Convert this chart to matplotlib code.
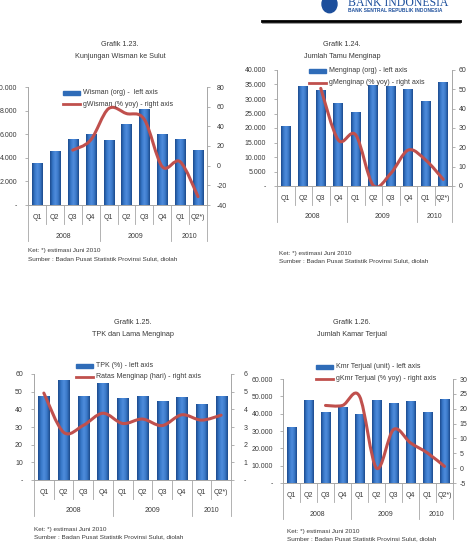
import numpy as np
import matplotlib
matplotlib.use('Agg')
import matplotlib.pyplot as plt
from matplotlib.path import Path
from matplotlib.patches import PathPatch, Circle, Rectangle
from matplotlib.lines import Line2D
from matplotlib.colors import LinearSegmentedColormap

plt.rcParams['font.family'] = ['Liberation Sans', 'DejaVu Sans']

# category axis (shared by all four charts)
quarters = ['Q1', 'Q2', 'Q3', 'Q4', 'Q1', 'Q2', 'Q3', 'Q4', 'Q1', 'Q2*)']
years = ['2008', '2009', '2010']
year_spans = [4, 4, 2]

# Grafik 1.23 - Kunjungan Wisman ke Sulut
wisman = [3520, 4560, 5630, 6000, 5490, 6900, 8170, 6000, 5580, 4650]
g_wisman = [np.nan, np.nan, 15.8, 26, 58, 53, 47, -1, 4, -31.5]
wisman_lticks = [0, 2000, 4000, 6000, 8000, 10000]
wisman_llabels = ['-', '2.000', '4.000', '6.000', '8.000', '10.000']
wisman_rticks = [-40, -20, 0, 20, 40, 60, 80]

# Grafik 1.24 - Jumlah Tamu Menginap
menginap = [20700, 34500, 33100, 28500, 25600, 34800, 34500, 33300, 29400, 35900]
g_menginap = [np.nan, np.nan, 50.5, 23.8, 26.4, 0.3, 6.5, 18.6, 13.4, 3.4]
menginap_lticks = [0, 5000, 10000, 15000, 20000, 25000, 30000, 35000, 40000]
menginap_llabels = ['-', '5.000', '10.000', '15.000', '20.000', '25.000',
                    '30.000', '35.000', '40.000']
menginap_rticks = [0, 10, 20, 30, 40, 50, 60]

# Grafik 1.25 - TPK dan Lama Menginap
tpk = [47.3, 56.8, 47.7, 55.1, 46.4, 47.5, 45.0, 47.1, 43.0, 47.5]
lama = [4.92, 2.7, 3.09, 3.78, 3.2, 3.45, 3.08, 3.69, 3.39, 3.67]
tpk_lticks = [0, 10, 20, 30, 40, 50, 60]
tpk_llabels = ['-', '10', '20', '30', '40', '50', '60']
lama_rticks = [0, 1, 2, 3, 4, 5, 6]
lama_rlabels = ['-', '1', '2', '3', '4', '5', '6']

# Grafik 1.26 - Jumlah Kamar Terjual
kamar = [32100, 48100, 40800, 43700, 39600, 47700, 46200, 47300, 41200, 48300]
g_kamar = [np.nan, np.nan, 21.1, 21.1, 24.2, 0.0, 13.0, 8.5, 5.1, 0.6]
kamar_lticks = [0, 10000, 20000, 30000, 40000, 50000, 60000]
kamar_llabels = ['-', '10.000', '20.000', '30.000', '40.000', '50.000', '60.000']
kamar_rticks = [-5, 0, 5, 10, 15, 20, 25, 30]

note1 = 'Ket: *) estimasi Juni 2010'
note2 = 'Sumber : Badan Pusat Statistik Provinsi Sulut, diolah'

W, H = 469, 546
RED = '#c0504d'
TXT = '#3a3a3a'
AXC = '#a6a6a6'
BAR_CMAP = LinearSegmentedColormap.from_list(
    'bar', ['#1c4a8c', '#3777c8', '#4f8cdc', '#3a79c8', '#1c4a8c'])

fig = plt.figure(figsize=(W / 100, H / 100), dpi=100)


def fx(x):
    return x / W


def fy(y):
    return 1 - y / H


def smooth_path(xs, ys):
    # Excel-like smoothed line: cubic bezier through the data points
    pts = np.array([(x, y) for x, y in zip(xs, ys) if not np.isnan(y)])
    n = len(pts)
    verts = [pts[0]]
    codes = [Path.MOVETO]
    for i in range(n - 1):
        p0 = pts[i - 1] if i > 0 else pts[i]
        p1, p2 = pts[i], pts[i + 1]
        p3 = pts[i + 2] if i + 2 < n else p2
        verts += [p1 + (p2 - p0) / 6, p2 - (p3 - p1) / 6, p2]
        codes += [Path.CURVE4] * 3
    return Path(verts, codes)


def draw_chart(box, bars, line, lticks, llabels, rticks, rlabels,
               leg_bar, leg_line, leg_xy, titles, title_xy, note_xy,
               lpad=4.5, rpad=4.5):
    l, t, r, b = box
    ax = fig.add_axes([fx(l), fy(b), (r - l) / W, (b - t) / H])
    x = np.arange(len(bars))
    rects = ax.bar(x, bars, width=0.56, color='#3272c2', zorder=2)
    grad = np.linspace(0, 1, 64).reshape(1, -1)
    for p in rects:
        x0, y0, w, h = p.get_x(), p.get_y(), p.get_width(), p.get_height()
        im = ax.imshow(grad, cmap=BAR_CMAP, extent=(x0, x0 + w, y0, y0 + h),
                       aspect='auto', interpolation='bilinear', zorder=3)
        im.set_clip_path(p)
    ax.set_xlim(-0.5, len(bars) - 0.5)
    ax.set_ylim(lticks[0], lticks[-1])
    ax.set_xticks([])
    ax.set_yticks(lticks)
    ax.set_yticklabels(llabels)
    ax.tick_params(axis='y', length=2, width=0.6, color=AXC, labelsize=5,
                   labelcolor=TXT, pad=lpad)
    for s in ['top', 'right']:
        ax.spines[s].set_visible(False)
    for s in ['left', 'bottom']:
        ax.spines[s].set_color(AXC)
        ax.spines[s].set_linewidth(0.7)

    ax2 = ax.twinx()
    ax2.add_patch(PathPatch(smooth_path(x, line), fill=False, edgecolor=RED,
                            lw=2.2, capstyle='round', joinstyle='round'))
    ax2.set_ylim(rticks[0], rticks[-1])
    ax2.set_yticks(rticks)
    ax2.set_yticklabels(rlabels)
    ax2.tick_params(axis='y', length=2, width=0.6, color=AXC, labelsize=5,
                    labelcolor=TXT, pad=rpad)
    for s in ['top', 'left', 'bottom']:
        ax2.spines[s].set_visible(False)
    ax2.spines['right'].set_color(AXC)
    ax2.spines['right'].set_linewidth(0.7)

    # two-level category axis
    trans = ax.get_xaxis_transform()
    hpx = b - t
    for i, q in enumerate(quarters):
        ax.text(i, -12.5 / hpx, q, transform=trans, ha='center', va='center',
                fontsize=5, color=TXT)
    start = 0
    bounds = [-0.5]
    for yr, span in zip(years, year_spans):
        ax.text(start + (span - 1) / 2, -31 / hpx, yr, transform=trans,
                ha='center', va='center', fontsize=5, color=TXT)
        for k in range(1, span):
            ax.add_line(Line2D([start + k - 0.5] * 2, [0, -19 / hpx],
                               transform=trans, color=AXC, lw=0.6,
                               clip_on=False))
        start += span
        bounds.append(start - 0.5)
    for xb in bounds:
        ax.add_line(Line2D([xb, xb], [0, -36 / hpx], transform=trans,
                           color=AXC, lw=0.6, clip_on=False))

    # legend
    lx, ly = leg_xy
    fig.add_artist(Rectangle((fx(lx), fy(ly + 2)), 17 / W, 4 / H,
                             transform=fig.transFigure, color='#2f6cb8'))
    fig.text(fx(lx + 20), fy(ly), leg_bar, fontsize=5, color=TXT,
             va='center', ha='left')
    fig.add_artist(Line2D([fx(lx), fx(lx + 17)], [fy(ly + 11.5)] * 2,
                          transform=fig.transFigure, color=RED, lw=2))
    fig.text(fx(lx + 20), fy(ly + 11.5), leg_line, fontsize=5, color=TXT,
             va='center', ha='left')

    # titles and notes
    tx, ty = title_xy
    fig.text(fx(tx), fy(ty), titles[0], fontsize=5.2, color=TXT,
             ha='center', va='center')
    fig.text(fx(tx), fy(ty + 11), titles[1], fontsize=5.2, color=TXT,
             ha='center', va='center')
    nx, ny = note_xy
    fig.text(fx(nx), fy(ny), note1, fontsize=4.6, color=TXT, va='center')
    fig.text(fx(nx), fy(ny + 8), note2, fontsize=4.6, color=TXT, va='center')


draw_chart((28, 87, 207, 205), wisman, g_wisman, wisman_lticks, wisman_llabels,
           wisman_rticks, [str(v) for v in wisman_rticks],
           'Wisman (org) -  left axis', 'gWisman (% yoy) - right axis',
           (63, 92.5), ('Grafik 1.23.', 'Kunjungan Wisman ke Sulut'),
           (120, 45), (28, 251), lpad=6, rpad=5)

draw_chart((277, 70, 452, 186), menginap, g_menginap, menginap_lticks,
           menginap_llabels, menginap_rticks,
           [str(v) for v in menginap_rticks],
           'Menginap (org) - left axis', 'gMenginap (% yoy) - right axis',
           (309, 71), ('Grafik 1.24.', 'Jumlah Tamu Menginap'),
           (342, 45), (279, 253), lpad=6, rpad=3)

draw_chart((34, 374, 231, 480), tpk, lama, tpk_lticks, tpk_llabels,
           lama_rticks, lama_rlabels,
           'TPK (%) - left axis', 'Ratas Menginap (hari) - right axis',
           (76, 365.5), ('Grafik 1.25.', 'TPK dan Lama Menginap'),
           (133, 323), (34, 529), lpad=6, rpad=7)

draw_chart((283, 379, 453, 483), kamar, g_kamar, kamar_lticks, kamar_llabels,
           kamar_rticks, [str(v) for v in kamar_rticks],
           'Kmr Terjual (unit) - left axis', 'gKmr Terjual (% yoy) - right axis',
           (316, 367), ('Grafik 1.26.', 'Jumlah Kamar Terjual'),
           (352, 323), (287, 531), lpad=5, rpad=3)

# header: Bank Indonesia logo and rule
fig.add_artist(Circle((fx(329.5), fy(4)), 7.5 / W, transform=fig.transFigure,
                      color='#1d4f9c'))
fig.text(fx(348), fy(5.5), 'BANK INDONESIA', fontsize=8.5, color='#1d4f9c',
         family='Liberation Serif', va='baseline', ha='left')
fig.text(fx(348), fy(10.5), 'BANK SENTRAL REPUBLIK INDONESIA', fontsize=3.5,
         color='#1d4f9c', weight='bold', va='center', ha='left')
fig.add_artist(Line2D([fx(262), fx(460)], [fy(21), fy(21)],
                      transform=fig.transFigure, color='black', lw=2))
fig.add_artist(Line2D([fx(262), fx(460)], [fy(23), fy(23)],
                      transform=fig.transFigure, color='#8a8a8a', lw=0.6))

fig.savefig('out.png', dpi=100)
